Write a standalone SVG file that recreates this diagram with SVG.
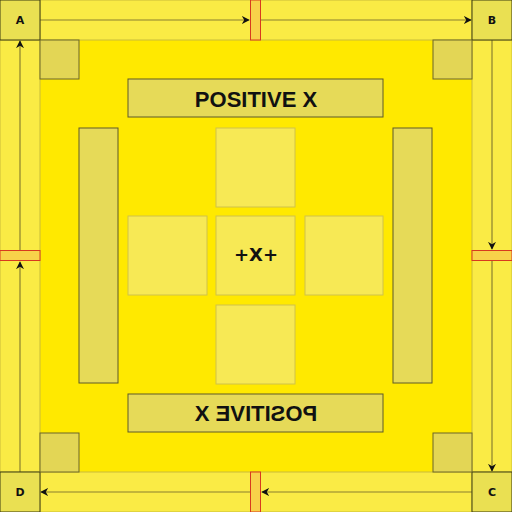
<svg xmlns="http://www.w3.org/2000/svg" width="512" height="512" viewBox="0 0 512 512">
<style>
.strip{fill:#FAEB45;stroke:#C9BC3A;stroke-width:1}
.corner{fill:#EAE052;stroke:#3a3a10;stroke-width:1}
.pad{fill:#E3D655;stroke:#6d6628;stroke-width:1}
.bar{fill:#E6DA58;stroke:#5e5a28;stroke-width:1}
.tile{fill:#F7E955;stroke:#CFC24A;stroke-width:1}
.mark{fill:#F8D24A;stroke:#D83A1E;stroke-width:1}
.lbl{font-family:"DejaVu Sans",sans-serif;font-weight:bold;font-size:11px;fill:#111;text-anchor:middle;dominant-baseline:central}
.title{font-family:"Liberation Sans",Arial,sans-serif;font-weight:bold;font-size:22px;fill:#111;text-anchor:middle;dominant-baseline:central}
.center{font-family:"DejaVu Sans",sans-serif;font-weight:bold;font-size:18px;fill:#111;text-anchor:middle;dominant-baseline:central}
.edge{stroke:#8a8030;stroke-width:1.2;fill:none;marker-end:url(#ah)}
</style>
<defs>
<marker id="ah" viewBox="0 0 10 10" refX="9" refY="5" markerWidth="8" markerHeight="8" markerUnits="userSpaceOnUse" orient="auto">
<path d="M0,0 L10,5 L0,10 L3,5 Z" fill="#111"/>
</marker>
</defs>
<rect x="0" y="0" width="512" height="512" fill="#FFE900"/>
<g id="strips">
<rect class="strip" x="40" y="0" width="432" height="40"/>
<rect class="strip" x="40" y="472" width="432" height="40"/>
<rect class="strip" x="0" y="40" width="40" height="432"/>
<rect class="strip" x="472" y="40" width="40" height="432"/>
</g>
<g id="connectors">
<line class="edge" x1="40" y1="20" x2="249" y2="20"/>
<line class="edge" x1="261" y1="20" x2="471" y2="20"/>
<line class="edge" x1="492" y1="40" x2="492" y2="249"/>
<line class="edge" x1="492" y1="261" x2="492" y2="471"/>
<line class="edge" x1="472" y1="492" x2="262" y2="492"/>
<line class="edge" x1="250" y1="492" x2="41" y2="492"/>
<line class="edge" x1="20" y1="472" x2="20" y2="262"/>
<line class="edge" x1="20" y1="250" x2="20" y2="41"/>
</g>
<g id="markers">
<rect class="mark" x="250.5" y="0" width="10" height="40"/>
<rect class="mark" x="250.5" y="472" width="10" height="40"/>
<rect class="mark" x="0" y="250.5" width="40" height="10"/>
<rect class="mark" x="472" y="250.5" width="40" height="10"/>
</g>
<g id="A"><rect class="corner" x="0" y="0" width="40" height="40"/><text class="lbl" x="20" y="20">A</text></g>
<g id="B"><rect class="corner" x="472" y="0" width="40" height="40"/><text class="lbl" x="492" y="20">B</text></g>
<g id="C"><rect class="corner" x="472" y="472" width="40" height="40"/><text class="lbl" x="492" y="492">C</text></g>
<g id="D"><rect class="corner" x="0" y="472" width="40" height="40"/><text class="lbl" x="20" y="492">D</text></g>
<g id="pads">
<rect class="pad" x="40" y="40" width="39" height="39"/>
<rect class="pad" x="433" y="40" width="39" height="39"/>
<rect class="pad" x="40" y="433" width="39" height="39"/>
<rect class="pad" x="433" y="433" width="39" height="39"/>
</g>
<g id="title-top"><rect class="bar" x="128" y="79" width="255" height="38"/><text class="title" x="256" y="99">POSITIVE X</text></g>
<g id="title-bottom"><rect class="bar" x="128" y="394" width="255" height="38"/><text class="title" x="256" y="413" transform="translate(512,0) scale(-1,1)">POSITIVE X</text></g>
<g id="bar-left"><rect class="bar" x="79" y="128" width="39" height="255"/></g>
<g id="bar-right"><rect class="bar" x="393" y="128" width="39" height="255"/></g>
<g id="tile-top"><rect class="tile" x="216" y="128" width="79" height="79"/></g>
<g id="tile-left"><rect class="tile" x="128" y="216" width="79" height="79"/></g>
<g id="tile-center"><rect class="tile" x="216" y="216" width="79" height="79"/><text class="center" x="256" y="254">+X+</text></g>
<g id="tile-right"><rect class="tile" x="305" y="216" width="78" height="79"/></g>
<g id="tile-bottom"><rect class="tile" x="216" y="305" width="79" height="79"/></g>
</svg>
